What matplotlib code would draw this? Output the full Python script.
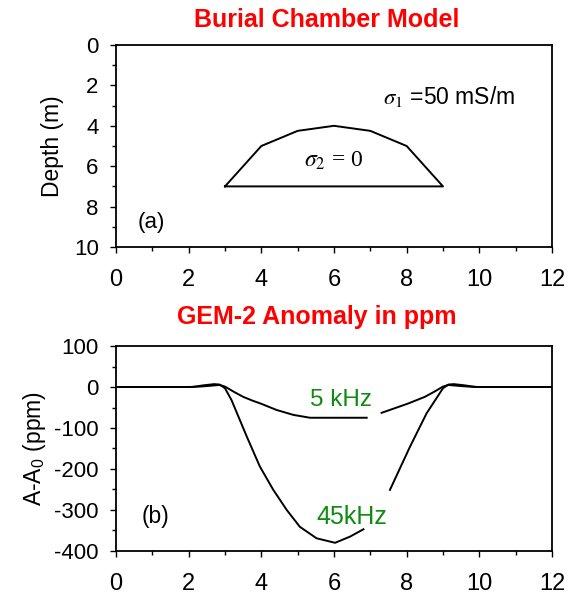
import matplotlib
matplotlib.use("Agg")
import matplotlib.pyplot as plt
import numpy as np
from matplotlib.ticker import MultipleLocator

plt.rcParams['font.family'] = ['Liberation Sans', 'DejaVu Sans']
plt.rcParams['mathtext.fontset'] = 'stix'
plt.rcParams['axes.unicode_minus'] = False

# model outline (x in m, depth in m)
chamber_x = [3, 4, 5, 6, 7, 8, 9, 3]
chamber_depth = [7, 5, 4.25, 4, 4.25, 5, 7, 7]

# anomaly curves, nan = gap behind label
nan = np.nan
khz5_x = [0, 1, 2.0, 2.3, 2.6, 2.85, 3.0, 3.25, 3.5, 3.75, 4.0, 4.42, 4.88, 5.34, 6.0, 6.9, 7.1,
          7.31, 7.6, 8.05, 8.5, 8.75, 9.0, 9.15, 9.4, 9.7, 10.0, 11, 12]
khz5_y = [0, 0, 0, 1, 3, 5, 1, -12, -24, -33, -41, -56, -68, -75, -75, -75, nan,
          -63, -54, -40, -24, -12, 1, 5, 3, 1, 0, 0, 0]
khz45_x = [0, 1, 2.1, 2.4, 2.7, 2.85, 3.0, 3.18, 3.6, 3.96, 4.33, 4.7, 5.06, 5.52, 6.03,
           6.44, 6.81, 7.2, 7.54, 8.09, 8.55, 9.0, 9.15, 9.3, 9.6, 9.9, 12]
khz45_y = [0, 0, 0, 4, 7, 6, -3, -32, -121, -194, -251, -300, -341, -369, -380,
           -365, -347, nan, -251, -146, -64, -3, 6, 7, 4, 0, 0]

fig = plt.figure(figsize=(5.72, 5.94), dpi=100)
ax1 = fig.add_axes([0.2028, 0.5842, 0.7622, 0.3400])
ax2 = fig.add_axes([0.2028, 0.0724, 0.7622, 0.3451])

def style(ax):
    for s in ax.spines.values():
        s.set_linewidth(1.3)
    ax.tick_params(which='major', direction='out', length=4.5, width=1.0)
    ax.tick_params(which='minor', direction='out', length=3, width=1.0)
    ax.tick_params(axis='x', labelsize=17, pad=11)
    ax.tick_params(axis='y', labelsize=16, pad=8)
    ax.xaxis.set_major_locator(MultipleLocator(2))
    ax.xaxis.set_minor_locator(MultipleLocator(1))
    ax.set_xlim(0, 12)

# (a) model
ax1.plot(chamber_x, chamber_depth, color='black', lw=1.4)
ax1.set_ylim(10, 0)
ax1.yaxis.set_major_locator(MultipleLocator(2))
ax1.yaxis.set_minor_locator(MultipleLocator(1))
style(ax1)
ax1.set_ylabel('Depth (m)', fontsize=16.5, labelpad=7)
ax1.text(7.35, 2.55, r'$\sigma_1$ =50 mS/m', fontsize=16.5, va='center', ha='left')
ax1.text(6.0, 5.75, r'$\sigma_2$ = 0', fontsize=17, va='center', ha='center',
         family=['Liberation Serif', 'DejaVu Serif'])
ax1.text(0.98, 8.8, '(a)', fontsize=16, va='center', ha='center')

# (b) anomaly
ax2.plot(khz5_x, khz5_y, color='black', lw=1.4)
ax2.plot(khz45_x, khz45_y, color='black', lw=1.4)
ax2.set_ylim(-400, 100)
ax2.yaxis.set_major_locator(MultipleLocator(100))
ax2.yaxis.set_minor_locator(MultipleLocator(50))
style(ax2)
ax2.set_ylabel(r'A-A$_{\mathregular{0}}$ (ppm)', fontsize=16.5, labelpad=4)
ax2.text(6.18, -32, '5 kHz', fontsize=17.5, color='#108a10', va='center', ha='center')
ax2.text(6.49, -318, '45kHz', fontsize=18, color='#108a10', va='center', ha='center')
ax2.text(1.1, -317, '(b)', fontsize=16.5, va='center', ha='center')

fig.text(327 / 572, 1 - 20 / 594, 'Burial Chamber Model', color='red', fontsize=18,
         fontweight='bold', ha='center', va='center')
fig.text(317 / 572, 1 - 317 / 594, 'GEM-2 Anomaly in ppm', color='red', fontsize=18,
         fontweight='bold', ha='center', va='center')

fig.savefig('out.png', dpi=100)
